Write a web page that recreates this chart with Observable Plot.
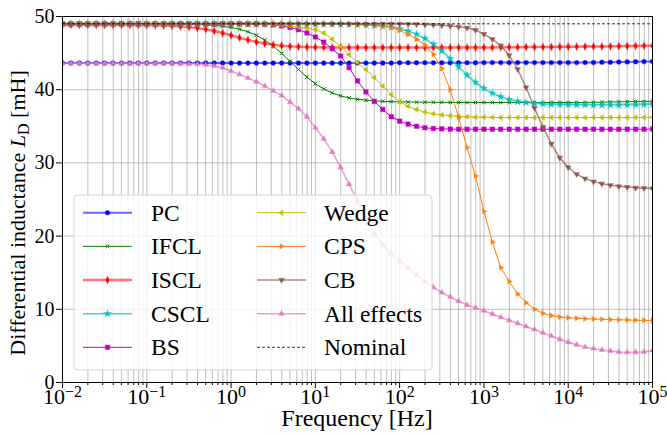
<!DOCTYPE html>
<html><head><meta charset="utf-8">
<script src="https://cdn.jsdelivr.net/npm/d3@7"></script>
<script src="https://cdn.jsdelivr.net/npm/@observablehq/plot@0.6"></script>
<style>body{margin:0;background:#fff;} svg text{white-space:pre;}</style>
</head><body><div id="chart"></div>
<script>
// log10 of frequency [Hz] for each sample
const logFreq = [-2.0,-1.9,-1.8,-1.7,-1.6,-1.5,-1.4,-1.3,-1.2,-1.1,
  -1.0,-0.9,-0.8,-0.7,-0.6,-0.5,-0.4,-0.3,-0.2,-0.1,
  0.0,0.1,0.2,0.3,0.4,0.5,0.6,0.7,0.8,0.9,
  1.0,1.1,1.2,1.3,1.4,1.5,1.6,1.7,1.8,1.9,
  2.0,2.1,2.2,2.3,2.4,2.5,2.6,2.7,2.8,2.9,
  3.0,3.1,3.2,3.3,3.4,3.5,3.6,3.7,3.8,3.9,
  4.0,4.1,4.2,4.3,4.4,4.5,4.6,4.7,4.8,4.9,
  5.0];

const seriesNames = ["PC","IFCL","ISCL","CSCL","BS","Wedge","CPS","CB","All effects"];
const nominalName = "Nominal";
const nominal = 49.0;

const PC = [43.65,43.65,43.65,43.65,43.65,43.65,43.65,43.65,43.65,43.65,
  43.65,43.65,43.65,43.65,43.65,43.65,43.65,43.65,43.65,43.65,
  43.65,43.65,43.65,43.65,43.65,43.65,43.65,43.65,43.65,43.65,
  43.65,43.65,43.65,43.65,43.65,43.65,43.65,43.65,43.65,43.65,
  43.68,43.68,43.68,43.68,43.68,43.68,43.68,43.68,43.68,43.68,
  43.7,43.7,43.7,43.7,43.7,43.7,43.7,43.7,43.7,43.7,
  43.7,43.7,43.72,43.72,43.74,43.76,43.78,43.8,43.82,43.84,
  43.86];
const IFCL = [49.0,49.0,49.0,49.0,49.0,49.0,49.0,49.0,49.0,49.0,
  49.0,49.0,48.99,48.98,48.97,48.94,48.9,48.85,48.78,48.67,
  48.5,48.26,47.92,47.43,46.78,45.95,44.97,43.88,42.76,41.72,
  40.82,40.1,39.56,39.16,38.88,38.69,38.56,38.47,38.41,38.37,
  38.34,38.32,38.3,38.29,38.28,38.27,38.26,38.25,38.25,38.25,
  38.25,38.25,38.25,38.25,38.25,38.25,38.25,38.25,38.25,38.25,
  38.25,38.26,38.27,38.28,38.3,38.32,38.34,38.36,38.38,38.4,
  38.42];
const ISCL = [48.85,48.85,48.85,48.85,48.85,48.85,48.85,48.85,48.85,48.85,
  48.81,48.79,48.76,48.72,48.65,48.56,48.43,48.25,48.02,47.74,
  47.43,47.1,46.8,46.53,46.31,46.14,46.02,45.93,45.87,45.83,
  45.8,45.78,45.77,45.76,45.75,45.75,45.75,45.75,45.75,45.75,
  45.75,45.75,45.75,45.75,45.75,45.76,45.76,45.76,45.76,45.76,
  45.77,45.78,45.79,45.8,45.81,45.82,45.83,45.84,45.85,45.86,
  45.87,45.88,45.89,45.9,45.91,45.92,45.94,45.96,45.98,46.0,
  46.02];
const CSCL = [49.0,49.0,49.0,49.0,49.0,49.0,49.0,49.0,49.0,49.0,
  49.0,49.0,49.0,49.0,49.0,49.0,49.0,49.0,49.0,49.0,
  49.0,49.0,49.0,49.0,49.0,49.0,49.0,49.0,49.0,49.0,
  49.0,49.0,48.99,48.96,48.94,48.91,48.86,48.8,48.69,48.55,
  48.33,48.02,47.59,47.0,46.24,45.3,44.24,43.11,42.0,41.0,
  40.17,39.52,39.03,38.68,38.43,38.26,38.14,38.06,38.0,37.97,
  37.95,37.93,37.92,37.9,37.9,37.9,37.9,37.92,37.95,37.98,
  38.0];
const BS = [49.0,49.0,49.0,49.0,49.0,49.0,49.0,49.0,49.0,49.0,
  49.0,49.0,49.0,49.0,49.0,49.0,49.0,49.0,49.0,49.0,
  49.0,49.0,49.0,49.0,48.95,48.85,48.7,48.5,48.2,47.75,
  47.2,46.5,45.6,44.6,43.0,41.2,39.7,38.4,37.3,36.3,
  35.7,35.3,35.0,34.8,34.7,34.65,34.62,34.6,34.6,34.6,
  34.6,34.6,34.6,34.6,34.6,34.6,34.6,34.6,34.6,34.6,
  34.6,34.6,34.6,34.6,34.6,34.6,34.6,34.6,34.6,34.6,
  34.62];
const Wedge = [49.0,49.0,49.0,49.0,49.0,49.0,49.0,49.0,49.0,49.0,
  49.0,49.0,49.0,49.0,49.0,49.0,49.0,49.0,49.0,49.0,
  49.0,49.0,49.0,48.98,48.95,48.9,48.82,48.7,48.55,48.4,
  48.2,47.75,46.9,45.9,44.8,43.7,42.75,41.65,40.5,39.35,
  38.35,37.75,37.3,36.95,36.7,36.55,36.45,36.35,36.3,36.25,
  36.25,36.22,36.2,36.2,36.2,36.2,36.2,36.2,36.2,36.2,
  36.2,36.2,36.2,36.2,36.2,36.2,36.2,36.2,36.2,36.2,
  36.25];
const CPS = [49.0,49.0,49.0,49.0,49.0,49.0,49.0,49.0,49.0,49.0,
  49.0,49.0,49.0,49.0,49.0,49.0,49.0,49.0,49.0,49.0,
  49.0,49.0,49.0,49.0,49.0,49.0,49.0,49.0,49.0,49.0,
  49.0,49.0,49.0,48.98,48.95,48.9,48.85,48.75,48.65,48.5,
  48.1,47.55,46.9,46.1,44.8,42.9,40.0,36.2,32.1,28.2,
  23.4,19.2,15.7,13.8,12.1,10.9,10.0,9.45,9.15,8.95,
  8.85,8.78,8.72,8.67,8.63,8.6,8.57,8.54,8.51,8.49,
  8.47];
const CB = [49.0,49.0,49.0,49.0,49.0,49.0,49.0,49.0,49.0,49.0,
  49.0,49.0,49.0,49.0,49.0,49.0,49.0,49.0,49.0,49.0,
  49.0,49.0,49.0,49.0,49.0,49.0,49.0,49.0,49.0,49.0,
  49.0,49.0,49.0,49.0,49.0,49.0,49.0,49.0,49.0,49.0,
  48.98,48.96,48.94,48.9,48.85,48.8,48.7,48.6,48.45,48.15,
  47.6,46.9,46.0,44.7,42.8,40.3,37.5,34.9,32.6,30.7,
  29.4,28.45,27.85,27.45,27.15,26.95,26.8,26.7,26.6,26.55,
  26.5];
const AllEffects = [43.6,43.6,43.6,43.6,43.6,43.6,43.6,43.6,43.6,43.6,
  43.6,43.6,43.6,43.6,43.58,43.55,43.5,43.4,43.25,43.0,
  42.55,42.1,41.6,41.1,40.5,39.85,39.2,38.3,37.4,36.3,
  34.8,33.3,31.5,29.4,27.1,24.8,22.4,20.4,18.8,17.6,
  16.6,15.65,14.7,13.8,13.0,12.3,11.7,11.1,10.6,10.2,
  9.8,9.35,8.9,8.5,8.1,7.65,7.25,6.8,6.35,5.9,
  5.5,5.15,4.85,4.65,4.45,4.3,4.18,4.12,4.12,4.2,
  4.37];

const xMajorTicks = [1e-2,1e-1,1e0,1e1,1e2,1e3,1e4,1e5];
const yTicks = [0,10,20,30,40,50];
const xLabel = "Frequency [Hz]";
const yLabelParts = ["Differential inductance ", "L", "D", " [mH]"];

// ---- styles ----
function tri(angle){
  return {draw(ctx, size){
    const r = Math.sqrt(size/Math.PI)*1.2;
    for(let k=0;k<3;k++){
      const a = angle + k*2*Math.PI/3;
      const x = r*Math.sin(a), y = -r*Math.cos(a);
      if(k===0) ctx.moveTo(x,y); else ctx.lineTo(x,y);
    }
    ctx.closePath();
  }};
}
const thinDiamond = {draw(ctx,size){const r=Math.sqrt(size/Math.PI);
  ctx.moveTo(0,-1.35*r);ctx.lineTo(0.6*r,0);ctx.lineTo(0,1.35*r);ctx.lineTo(-0.6*r,0);ctx.closePath();}};
const xMark = {draw(ctx,size){const r=Math.sqrt(size/Math.PI);
  ctx.moveTo(-r,-r);ctx.lineTo(r,r);ctx.moveTo(-r,r);ctx.lineTo(r,-r);}};

const styles = [
  {color:"#0000ff", lw:2,   lo:0.6, sym:d3.symbolCircle, r:2.2},
  {color:"#008000", lw:1,   lo:1,   sym:xMark, r:1.8, stroked:true},
  {color:"#ff0000", lw:2.5, lo:0.55,sym:thinDiamond, r:2.7},
  {color:"#00bfbf", lw:1.5, lo:0.7, sym:d3.symbolStar, r:2.1},
  {color:"#bf00bf", lw:1,   lo:1,   sym:d3.symbolSquare, r:2.5},
  {color:"#bfbf00", lw:1,   lo:1,   sym:tri(-Math.PI/2), r:2.4},
  {color:"#ff7f0e", lw:1,   lo:1,   sym:tri(Math.PI/2), r:2.4},
  {color:"#8c564b", lw:1.5, lo:0.7, sym:tri(Math.PI), r:2.6},
  {color:"#e377c2", lw:1.5, lo:0.7, sym:tri(0), r:2.5}
];

const ML=62, MR=15, MT=16, MB=53, W=667, H=435;
const freq = logFreq.map(e => Math.pow(10, e));
const allValues = [PC, IFCL, ISCL, CSCL, BS, Wedge, CPS, CB, AllEffects];
const minorTicks = [];
for (let e=-2; e<5; e++) for (let m=2; m<10; m++) minorTicks.push(m*Math.pow(10,e));

const grid = "#b0b0b0";
const marks = [
  Plot.ruleX(minorTicks, {stroke:grid, strokeWidth:0.8}),
  Plot.ruleX(xMajorTicks, {stroke:grid, strokeWidth:0.8}),
  Plot.ruleY(yTicks, {stroke:grid, strokeWidth:0.8})
];
allValues.forEach((vals, i) => {
  const rows = vals.map((v, j) => ({f: freq[j], v, s: seriesNames[i]}));
  const st = styles[i];
  marks.push(Plot.line(rows, {x:"f", y:"v", stroke:st.color, strokeWidth:st.lw, strokeOpacity:st.lo, clip:true}));
  marks.push(Plot.dot(rows, {x:"f", y:"v", symbol:st.sym, r:st.r,
    fill: st.stroked ? "none" : st.color, stroke: st.color,
    strokeWidth: st.stroked ? 1 : 1.2, strokeOpacity: st.stroked ? 1 : 0.4, clip:true}));
});
marks.push(Plot.ruleY([nominal], {stroke:"black", strokeWidth:0.8, strokeDasharray:"3,2"}));
marks.push(Plot.frame({stroke:"black", strokeWidth:1}));
marks.push(Plot.axisY(yTicks, {tickSize:6, tickPadding:2, fontSize:20, label:null}));
marks.push(Plot.axisX(xMajorTicks, {tickSize:6, tickPadding:0, fontSize:22, label:null,
  tickFormat: d => "10^" + Math.round(Math.log10(d))}));
marks.push(Plot.axisX(minorTicks, {tickSize:3, tickFormat: () => "", label:null}));

const chart = Plot.plot({
  width: W, height: H,
  marginLeft: ML, marginRight: MR, marginTop: MT, marginBottom: MB,
  x: {type:"log", domain:[1e-2, 1e5]},
  y: {domain:[0, 50]},
  style: {fontFamily:"'Liberation Serif','Times New Roman',serif", background:"white", color:"black"},
  marks
});
document.getElementById("chart").appendChild(chart);

const svg = d3.select(chart);
// superscript tick labels
svg.selectAll("text").each(function(){
  const m = /^10\^(-?\d+)$/.exec(this.textContent);
  if (m) {
    const el = d3.select(this);
    el.text("");
    el.append("tspan").text("10");
    el.append("tspan").attr("dy", -7).attr("font-size", "16px").text(m[1].replace("-", "\u2212"));
  }
});

// axis labels
svg.append("text").attr("x", (ML + W - MR)/2).attr("y", 426)
  .attr("text-anchor","middle").attr("font-size",24).attr("fill","black").text(xLabel);
const yl = svg.append("text").attr("transform", `translate(25,213) rotate(-90)`)
  .attr("text-anchor","middle").attr("font-size",22).attr("fill","black");
yl.append("tspan").text(yLabelParts[0]);
yl.append("tspan").attr("font-style","italic").text(yLabelParts[1]);
yl.append("tspan").attr("font-size","16px").attr("dy",4).text(yLabelParts[2]);
yl.append("tspan").attr("dy",-4).text(yLabelParts[3]);

// legend
const lg = svg.append("g");
lg.append("rect").attr("x",74).attr("y",195).attr("width",358).attr("height",175).attr("rx",4)
  .attr("fill","white").attr("fill-opacity",0.8).attr("stroke","#d4d4d4").attr("stroke-width",1);
const names = seriesNames.concat([nominalName]);
names.forEach((name, i) => {
  const col = i < 5 ? 0 : 1, row = i % 5;
  const hx = col ? 257 : 83, tx = col ? 324 : 151;
  const y = 212.7 + row*33.65;
  if (i < styles.length) {
    const st = styles[i];
    lg.append("line").attr("x1",hx).attr("x2",hx+49).attr("y1",y).attr("y2",y)
      .attr("stroke",st.color).attr("stroke-width",st.lw).attr("stroke-opacity",st.lo);
    lg.append("path").attr("transform",`translate(${hx+24.5},${y})`)
      .attr("d", d3.symbol(st.sym, Math.PI*st.r*st.r)())
      .attr("fill", st.stroked ? "none" : st.color).attr("stroke", st.color)
      .attr("stroke-width", st.stroked ? 1 : 1.2).attr("stroke-opacity", st.stroked ? 1 : 0.4);
  } else {
    lg.append("line").attr("x1",hx).attr("x2",hx+49).attr("y1",y).attr("y2",y)
      .attr("stroke","black").attr("stroke-width",0.8).attr("stroke-dasharray","3,2");
  }
  lg.append("text").attr("x",tx).attr("y",y+8).attr("text-anchor","start")
    .attr("font-size",23.5).attr("fill","black").text(name);
});
</script>
</body></html>
